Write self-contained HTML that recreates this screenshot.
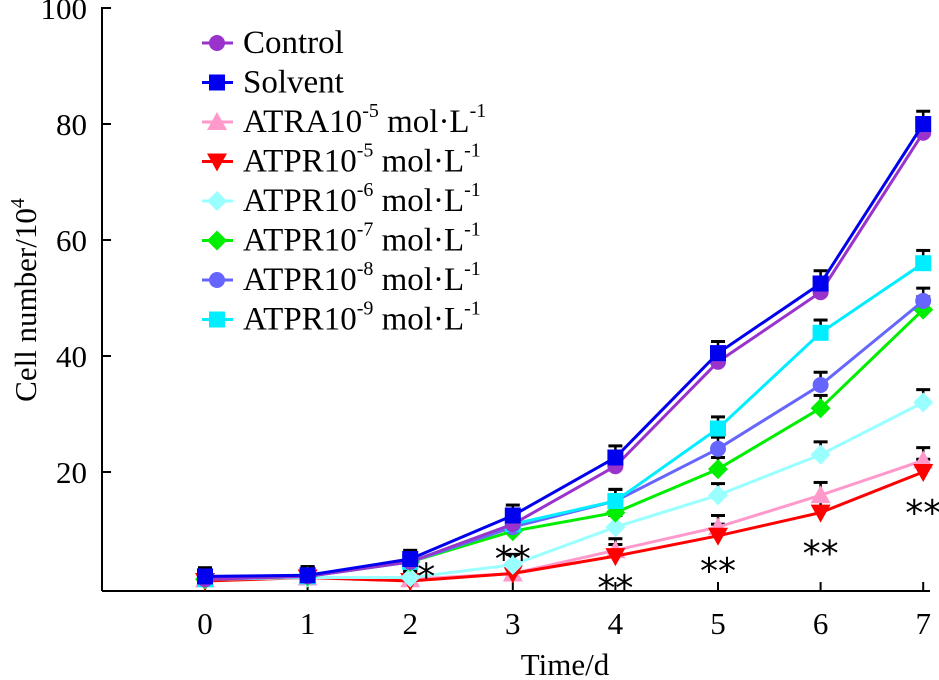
<!DOCTYPE html>
<html><head><meta charset="utf-8"><style>
body{margin:0;background:#fff}
svg{display:block;font-family:"Liberation Serif",serif}
</style></head><body>
<svg id="chart" width="939" height="680"></svg>
<script>
const days=[0,1,2,3,4,5,6,7];
const yTicks=[20,40,60,80,100];
const names=["Control","Solvent","ATRA10","ATPR10","ATPR10","ATPR10","ATPR10","ATPR10"];
const exps=["","","-5","-5","-6","-7","-8","-9"];
const colors=["#9933cc","#0000ee","#ff99cc","#ff0000","#99ffff","#00ee00","#6666ff","#00eeff"];
const markers=["circle","square","tri","tridown","diamond","diamond","circle","square"];
const control=[1.5,2,4.5,11,21,39,51,78.5];
const solvent=[2,2.2,5,12.5,22.5,40.5,52.5,80];
const atra5=[1.5,1.8,1.5,2.5,6.5,10.5,16,22];
const atpr5=[1.2,1.8,1.2,2.5,5.5,9,13,20];
const atpr6=[1.5,1.8,1.8,4,10.5,16,23,32];
const atpr7=[1.5,2,4.5,9.8,13,20.5,31,48];
const atpr8=[1.5,2,4.5,10.5,15,24,35,49.5];
const atpr9=[1.5,2,4.5,11,15,27.5,44,56];
const errs=[1.5,1.5,1.5,1.8,2,2,2.2,2.2];
const series=[control,solvent,atra5,atpr5,atpr6,atpr7,atpr8,atpr9];
const starDays=[2,3,4,5,6,7];
const starText=["*","**","**","**","**","**"];
const starVals=[3,6,1,4,7,14];

const NS="http://www.w3.org/2000/svg";
const svg=document.getElementById('chart');
const X=d=>205+d*102.6;
const Y=v=>588-v*5.8;
function mk(tag,attrs,parent){const e=document.createElementNS(NS,tag);for(const k in attrs)e.setAttribute(k,attrs[k]);(parent||svg).appendChild(e);return e;}

let g=mk('g',{});


mk('line',{x1:102,y1:591,x2:930,y2:591,stroke:'#000','stroke-width':2},g);
mk('line',{x1:102,y1:591,x2:102,y2:7,stroke:'#000','stroke-width':2},g);
days.forEach(d=>{
  mk('line',{x1:X(d),y1:591,x2:X(d),y2:582,stroke:'#000','stroke-width':2},g);
  const t=mk('text',{x:X(d),y:634,'font-size':31,'text-anchor':'middle'},g);t.textContent=d;
  
  
});
yTicks.forEach(v=>{
  mk('line',{x1:102,y1:Y(v),x2:111,y2:Y(v),stroke:'#000','stroke-width':2},g);
  const t=mk('text',{x:87,y:Y(v)+11,'font-size':31,'text-anchor':'end'},g);t.textContent=v;
  
  
});
let xt=mk('text',{x:565,y:675,'font-size':31,'text-anchor':'middle'});xt.textContent='Time/d';


let yt=mk('text',{transform:'translate(36,300) rotate(-90)','font-size':31,'text-anchor':'middle'});
yt.innerHTML='Cell number/10<tspan dy="-12" font-size="20">4</tspan>';



function marker(type,x,y,c,p){
  const s=8;
  if(type==='circle')return mk('circle',{cx:x,cy:y,r:s,fill:c},p);
  if(type==='square')return mk('rect',{x:x-s,y:y-s,width:2*s,height:2*s,fill:c},p);
  if(type==='tri')return mk('polygon',{points:`${x},${y-s-2} ${x-s-2},${y+s} ${x+s+2},${y+s}`,fill:c},p);
  if(type==='tridown')return mk('polygon',{points:`${x},${y+s+2} ${x-s-2},${y-s} ${x+s+2},${y-s}`,fill:c},p);
  return mk('polygon',{points:`${x},${y-s-2} ${x+s+2},${y} ${x},${y+s+2} ${x-s-2},${y}`,fill:c},p);
}
series.forEach((s,i)=>{
  const eg=mk('g',{});
  
  
  s.forEach((v,j)=>{
    const y1=Y(v),y2=Y(v+errs[j]);
    mk('line',{x1:X(days[j]),y1:y1,x2:X(days[j]),y2:y2,stroke:'#000','stroke-width':2.5},eg);
    mk('line',{x1:X(days[j])-7,y1:y2,x2:X(days[j])+7,y2:y2,stroke:'#000','stroke-width':3},eg);
  });
});
const order=[2,3,4,5,6,7,0,1];
order.forEach(i=>{
  const s=series[i];
  const sg=mk('g',{});
  
  
  mk('polyline',{points:s.map((v,j)=>X(days[j])+','+Y(v)).join(' '),fill:'none',stroke:colors[i],'stroke-width':3},sg);
  s.forEach((v,j)=>{
    const m=marker(markers[i],X(days[j]),Y(v),colors[i],sg);
    
    
  });
});
starDays.forEach((d,k)=>{
  const t=mk('text',{x:X(d)+(k===0?16:0),y:Y(starVals[k])+18,'font-size':36,'text-anchor':'middle','font-family':'DejaVu Sans, sans-serif'});
  t.textContent=starText[k];
  
  
});
const lg=mk('g',{});


names.forEach((n,i)=>{
  const y=43+i*39.5;
  const eg=mk('g',{},lg);
  
  
  mk('line',{x1:202,y1:y,x2:233,y2:y,stroke:colors[i],'stroke-width':3},eg);
  marker(markers[i],217,y,colors[i],eg);
  const t=mk('text',{x:243,y:y+10,'font-size':33},eg);
  if(exps[i]) t.innerHTML=n+'<tspan dy="-15" font-size="20">'+exps[i]+'</tspan><tspan dy="15"> mol·L</tspan><tspan dy="-15" font-size="20">-1</tspan>';
  else t.textContent=n;
});
</script>
</body></html>
